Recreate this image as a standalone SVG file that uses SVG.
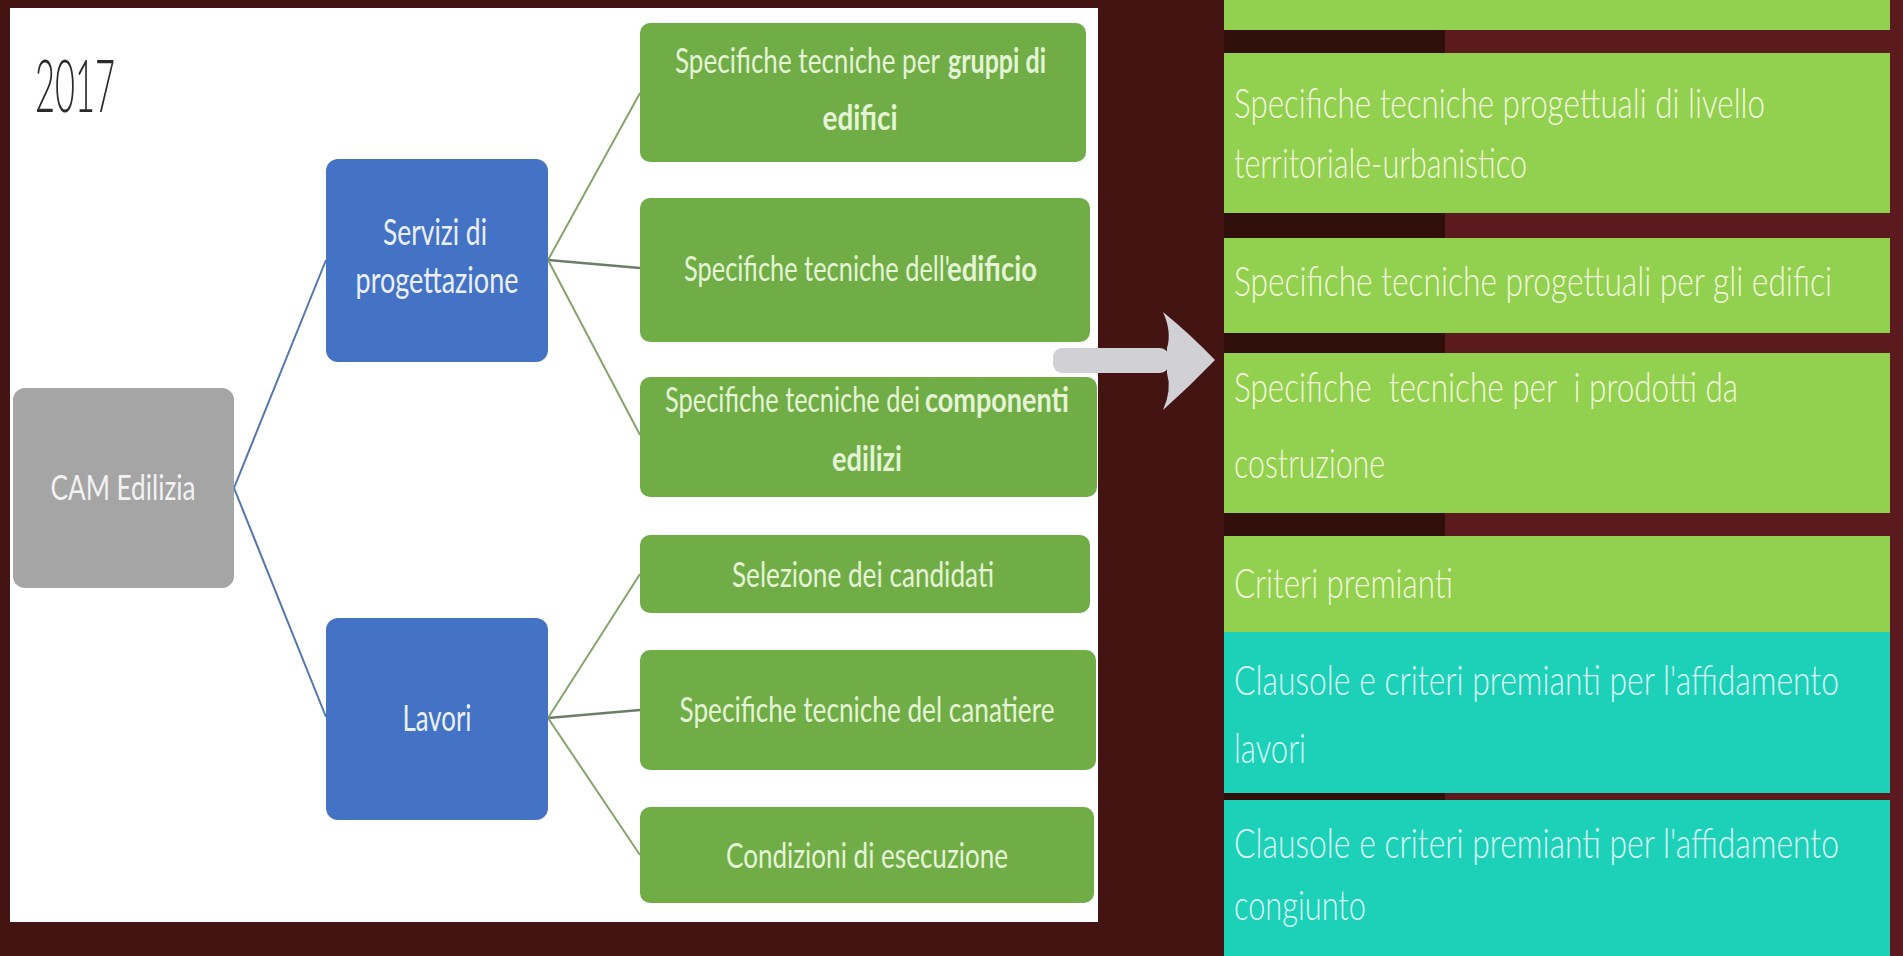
<svg xmlns="http://www.w3.org/2000/svg" width="1903" height="956" viewBox="0 0 1903 956">
<defs>
<style>
.lt{font-family:Lato,"Liberation Sans",sans-serif;text-anchor:middle}
.ls{font-family:Lato,"Liberation Sans",sans-serif;text-anchor:start}
.gb{fill:#70AD47}
.gt{fill:#E4F4D4;font-size:34px}
.bb{fill:#4472C4}
.bt{fill:#EAF0FA;font-size:37px}
.gy{fill:#A5A5A5}
.b{font-weight:700}
.rt{font-family:Lato,"Liberation Sans",sans-serif;font-weight:300;font-size:41px;white-space:pre}
.on-g{fill:#F4F9DE}
.on-c{fill:#DDFBF4}
.rg{fill:#92D050}
.rc{fill:#1DD0B8}
.cb{stroke:#5476AE;stroke-width:2;fill:none}
.cg{stroke:#86A36C;stroke-width:2;fill:none}
.cm{stroke:#6E7E66;stroke-width:2.5;fill:none}
</style>
</defs>
<rect x="0" y="0" width="1903" height="956" fill="#431412"/>
<rect x="10" y="8" width="1088" height="914" fill="#FFFFFF"/>
<text x="35" y="112" font-family="Lato, 'Liberation Sans', sans-serif" font-weight="300" font-size="72" textLength="80" lengthAdjust="spacingAndGlyphs" fill="#2B2B2B">2017</text>

<g id="connectors">
<path class="cb" d="M234,488 L326,260"/>
<path class="cb" d="M234,488 L326,717"/>
<path class="cg" d="M548,260 L640,93"/>
<path class="cm" d="M548,260 L640,268"/>
<path class="cg" d="M548,260 L640,435"/>
<path class="cg" d="M548,718 L640,574"/>
<path class="cm" d="M548,718 L640,710"/>
<path class="cg" d="M548,718 L640,855"/>
</g>

<g id="cam">
<rect class="gy" x="13" y="388" width="221" height="200" rx="12"/>
<text class="lt" x="123" y="500" font-size="35" fill="#F2F2F2" textLength="145" lengthAdjust="spacingAndGlyphs">CAM Edilizia</text>
</g>
<g id="servizi">
<rect class="bb" x="326" y="159" width="222" height="203" rx="12"/>
<text class="lt bt" x="435" y="245" textLength="104" lengthAdjust="spacingAndGlyphs">Servizi di</text>
<text class="lt bt" x="437" y="293" textLength="163" lengthAdjust="spacingAndGlyphs">progettazione</text>
</g>
<g id="lavori">
<rect class="bb" x="326" y="618" width="222" height="202" rx="12"/>
<text class="lt bt" x="437" y="731" textLength="69" lengthAdjust="spacingAndGlyphs">Lavori</text>
</g>
<g id="gruppi">
<rect class="gb" x="640" y="23" width="446" height="139" rx="10"/>
<text class="ls gt" x="675" y="73" textLength="265" lengthAdjust="spacingAndGlyphs">Specifiche tecniche per</text>
<text class="ls gt b" x="948" y="73" textLength="98" lengthAdjust="spacingAndGlyphs">gruppi di</text>
<text class="lt gt b" x="860" y="130" textLength="75" lengthAdjust="spacingAndGlyphs">edifici</text>
</g>
<g id="edificio">
<rect class="gb" x="640" y="198" width="450" height="144" rx="10"/>
<text class="ls gt" x="684" y="281" textLength="266" lengthAdjust="spacingAndGlyphs">Specifiche tecniche dell'</text>
<text class="ls gt b" x="947" y="281" textLength="90" lengthAdjust="spacingAndGlyphs">edificio</text>
</g>
<g id="componenti">
<rect class="gb" x="640" y="377" width="457" height="120" rx="10"/>
<text class="ls gt" x="665" y="412" textLength="255" lengthAdjust="spacingAndGlyphs">Specifiche tecniche dei</text>
<text class="ls gt b" x="925" y="412" textLength="144" lengthAdjust="spacingAndGlyphs">componenti</text>
<text class="lt gt b" x="867" y="471" textLength="70" lengthAdjust="spacingAndGlyphs">edilizi</text>
</g>
<g id="selezione">
<rect class="gb" x="640" y="535" width="450" height="78" rx="10"/>
<text class="lt gt" x="863" y="587" textLength="262" lengthAdjust="spacingAndGlyphs">Selezione dei candidati</text>
</g>
<g id="canatiere">
<rect class="gb" x="640" y="650" width="456" height="120" rx="10"/>
<text class="lt gt" x="867" y="722" textLength="375" lengthAdjust="spacingAndGlyphs">Specifiche tecniche del canatiere</text>
</g>
<g id="condizioni">
<rect class="gb" x="640" y="807" width="454" height="96" rx="10"/>
<text class="lt gt" x="867" y="868" textLength="282" lengthAdjust="spacingAndGlyphs">Condizioni di esecuzione</text>
</g>

<g id="arrow">
<rect x="1053" y="348" width="116" height="25" rx="9" fill="#D0D0D5"/>
<path d="M1163,312 Q1190,334 1215,360 Q1190,386 1163,410 Q1172,390 1167,373 L1167,348 Q1172,332 1163,312 Z" fill="#D0D0D5"/>
</g>

<g id="right-panel">
<rect x="1224" y="0" width="679" height="956" fill="#5A1A1E"/>
<rect x="1224" y="0" width="221" height="956" fill="#300F0A"/>
<rect x="1890" y="0" width="13" height="956" fill="#5A1A1E"/>
</g>
<g id="r-top"><rect class="rg" x="1224" y="0" width="666" height="30"/></g>
<g id="r-territoriale">
<rect class="rg" x="1224" y="53" width="666" height="160"/>
<text class="rt on-g" x="1234" y="118" textLength="531" lengthAdjust="spacingAndGlyphs">Specifiche tecniche progettuali di livello</text>
<text class="rt on-g" x="1234" y="178" textLength="293" lengthAdjust="spacingAndGlyphs">territoriale-urbanistico</text>
</g>
<g id="r-edifici">
<rect class="rg" x="1224" y="238" width="666" height="95"/>
<text class="rt on-g" x="1234" y="296" textLength="598" lengthAdjust="spacingAndGlyphs">Specifiche tecniche progettuali per gli edifici</text>
</g>
<g id="r-prodotti">
<rect class="rg" x="1224" y="353" width="666" height="160"/>
<text class="rt on-g" x="1234" y="402" textLength="504" lengthAdjust="spacingAndGlyphs">Specifiche  tecniche per  i prodotti da</text>
<text class="rt on-g" x="1234" y="478" textLength="151" lengthAdjust="spacingAndGlyphs">costruzione</text>
</g>
<g id="r-criteri">
<rect class="rg" x="1224" y="536" width="666" height="96"/>
<text class="rt on-g" x="1234" y="598" textLength="219" lengthAdjust="spacingAndGlyphs">Criteri premianti</text>
</g>
<g id="r-lavori">
<rect class="rc" x="1224" y="632" width="666" height="161"/>
<text class="rt on-c" x="1234" y="695" textLength="605" lengthAdjust="spacingAndGlyphs">Clausole e criteri premianti per l'affidamento</text>
<text class="rt on-c" x="1234" y="763" textLength="72" lengthAdjust="spacingAndGlyphs">lavori</text>
</g>
<g id="r-congiunto">
<rect class="rc" x="1224" y="800" width="666" height="156"/>
<text class="rt on-c" x="1234" y="858" textLength="605" lengthAdjust="spacingAndGlyphs">Clausole e criteri premianti per l'affidamento</text>
<text class="rt on-c" x="1234" y="920" textLength="132" lengthAdjust="spacingAndGlyphs">congiunto</text>
</g>
</svg>
